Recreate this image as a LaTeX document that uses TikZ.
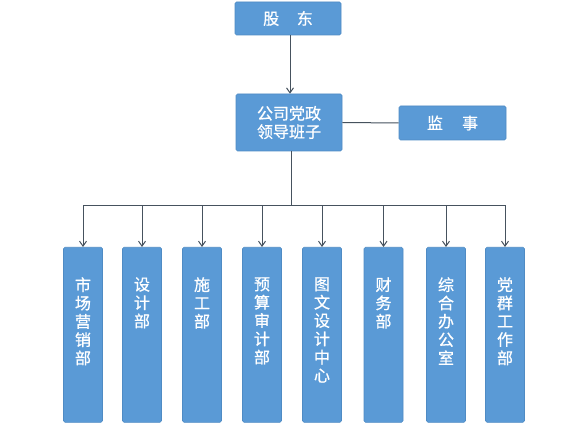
\documentclass[tikz,border=0pt]{standalone}
\usepackage{fontspec}
\setmainfont{Noto Sans CJK SC}[FakeBold=0.8]
\usetikzlibrary{arrows.meta}
\definecolor{boxblue}{HTML}{5A9AD6}
\definecolor{boxedge}{HTML}{4F8BC4}
\definecolor{linegray}{HTML}{46525E}
\newcommand\vtxt[1]{\parbox[t][175pt][t]{39pt}{\centering\vspace*{30pt}#1\par}}
\begin{document}
\begin{tikzpicture}[x=1pt,y=-1pt,
  box/.style={draw=boxedge,line width=0.6pt,fill=boxblue,text=white,rounded corners=1.5pt,
    font=\fontsize{16}{18.3}\selectfont,align=center,inner sep=0pt},
  topbox/.style={box,minimum width=106pt,minimum height=33pt},
  deptbox/.style={box,minimum width=39pt,minimum height=175pt,anchor=north},
  conn/.style={draw=linegray,line width=1pt},
  arr/.style={conn,-{Straight Barb[length=5pt,width=7pt]}}]
\useasboundingbox (0,0) rectangle (588,435);
\fill[white] (0,0) rectangle (588,435);
\node[topbox] (gd) at (288,18.5) {股\hspace{1.1em}东};
\node[topbox,minimum height=57pt] (lead) at (289,122.5) {公司党政\\领导班子};
\node[topbox,minimum width=107pt,minimum height=34pt] (js) at (452.5,123) {监\hspace{1.2em}事};
\node[deptbox] (d1) at (83,247) {\vtxt{市\\场\\营\\销\\部}};
\node[deptbox] (d2) at (142,247) {\vtxt{设\\计\\部}};
\node[deptbox] (d3) at (202,247) {\vtxt{施\\工\\部}};
\node[deptbox] (d4) at (262,247) {\vtxt{预\\算\\审\\计\\部}};
\node[deptbox] (d5) at (322,247) {\vtxt{图\\文\\设\\计\\中\\心}};
\node[deptbox] (d6) at (383.5,247) {\vtxt{财\\务\\部}};
\node[deptbox] (d7) at (446,247) {\vtxt{综\\合\\办\\公\\室}};
\node[deptbox] (d8) at (505,247) {\vtxt{党\\群\\工\\作\\部}};
\coordinate (bus) at (291.5,205.5);
\draw[arr] (gd.south -| 290,0) -- (lead.north -| 290,0);
\draw[conn] (lead.east) -- (js.west);
\draw[conn] (lead.south -| bus) -- (bus);
\draw[conn] (bus -| d1) -- (bus -| d8);
\foreach \d in {d1,d2,d3,d4,d5,d6,d7,d8}{
  \draw[arr] (bus -| \d) -- (\d.north);
}
\end{tikzpicture}
\end{document}
